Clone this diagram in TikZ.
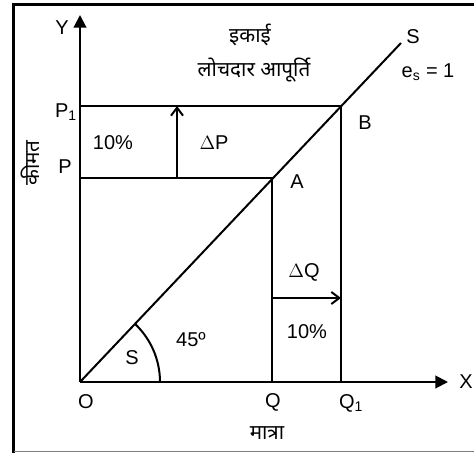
\documentclass[tikz,border=0pt]{standalone}
\usepackage{fontspec}
\setmainfont{Liberation Sans}
\newfontfamily\hindi[Script=Devanagari]{Noto Sans}
\usetikzlibrary{arrows.meta}
\tikzset{every picture/.style={line width=1.5pt}}

\begin{document}
\begin{tikzpicture}[x=0.75pt,y=0.75pt,yscale=-1,xscale=1,
  lbl/.style={inner sep=0.75pt,font=\fontsize{15}{17}\selectfont},
  hlbl/.style={inner sep=0.75pt,font=\hindi\fontsize{15.5}{17}\selectfont},
  axis/.style={-{Triangle[length=9.5pt,width=9.5pt]}},
  delta/.style={-{Straight Barb[length=6pt,width=9pt]}}]
\useasboundingbox (0,0) rectangle (474,453);

%Frame
\draw [line width=2.25pt] (474,4.5) -- (13.5,4.5) -- (13.5,452.5);
\draw [line width=1pt,color=gray] (13.5,451.5) -- (474,451.5);

%Points
\coordinate (O) at (80,382);
\coordinate (Ytip) at (80,15);
\coordinate (Xtip) at (448,382);
\coordinate (P1) at (80,106);
\coordinate (P) at (80,178);
\coordinate (A) at (272,178);
\coordinate (B) at (341,106);
\coordinate (Q) at (272,382);
\coordinate (Q1) at (341,382);
\coordinate (S) at (401,43);
\coordinate (dPfoot) at (177,178);
\coordinate (dPtip) at (177,106);
\coordinate (dQfoot) at (272,298);
\coordinate (dQtip) at (341,298);
\coordinate (arcstart) at (160,382);

%Shape: Axis 2D
\draw [axis] (O) -- (Ytip);
\draw [axis] (O) -- (Xtip);
%Straight Lines
\draw (O) -- (S);
\draw (P1) -- (B) -- (Q1);
\draw (P) -- (A) -- (Q);
%Arrows
\draw [delta] (dPfoot) -- (dPtip);
\draw [delta] (dQfoot) -- (dQtip);
%Shape: Arc
\draw (arcstart) arc [start angle=0,end angle=-46.5,radius=80];

% Text Node
\node [lbl] (labY) at (62,28) {Y};
\node [lbl] (labX) at (466,382) {X};
\node [lbl] (labO) at (86,402) {O};
\node [lbl] (labQ) at (273,402) {Q};
\node [lbl] (labQ1) at (351,403) {Q\textsubscript{1}};
\node [lbl] (labP1) at (66,112) {P\textsubscript{1}};
\node [lbl] (labP) at (65,167) {P};
\node [lbl] (labA) at (297,182) {A};
\node [lbl] (labB) at (365,123) {B};
\node [lbl] (labS) at (413,37) {S};
\node [lbl] (labes) at (428,72) {e\textsubscript{s} = 1};
\node [lbl] (labsmall) at (132,358) {S};
\node [lbl] (labangle) at (191,340) {45º};
\node [lbl] (labpct1) at (113,143) {10\%};
\node [lbl] (labpct2) at (307,332) {10\%};
\node [lbl] (labdP) at (214,143) {$\Delta$P};
\node [lbl] (labdQ) at (304,272) {$\Delta$Q};
\node [hlbl] (title1) at (250,35) {इकाई};
\node [hlbl] (title2) at (254,70) {लोचदार आपूर्ति};
\node [hlbl] (labqty) at (267,433) {मात्रा};
\node [hlbl,rotate=90] (labprice) at (30,163) {कीमत};
\end{tikzpicture}
\end{document}
